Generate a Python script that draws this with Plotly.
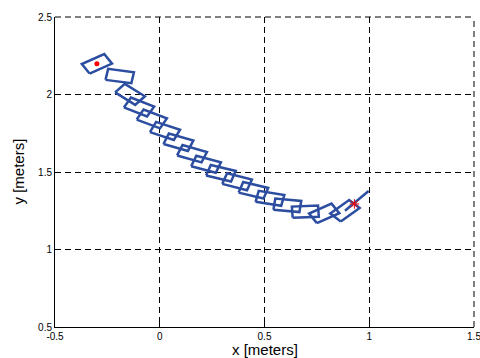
import math
import plotly.graph_objects as go

# Robot poses: centre x, centre y [m], heading [deg]
pose_x = [-0.300, -0.191, -0.142, -0.099, -0.038, 0.025, 0.089, 0.154, 0.221,
          0.292, 0.369, 0.447, 0.526, 0.609, 0.695, 0.785, 0.884]
pose_y = [2.198, 2.119, 2.001, 1.919, 1.842, 1.765, 1.692, 1.618, 1.550,
          1.492, 1.437, 1.382, 1.330, 1.285, 1.244, 1.233, 1.250]
pose_th = [31, -10, -40, -28, -27, -24, -21, -21, -20,
           -18, -19, -18, -12, -7, 3, 31, 44]

start_pt = (-0.300, 2.199)
goal_pt = (0.929, 1.294)
tail_x = [0.884, 0.997]
tail_y = [1.250, 1.377]

x_ticks = [-0.5, 0, 0.5, 1, 1.5]
y_ticks = [0.5, 1, 1.5, 2, 2.5]

L, W = 0.125, 0.072
rx, ry = [], []
for cx, cy, th in zip(pose_x, pose_y, pose_th):
    t = math.radians(th)
    c, s = math.cos(t), math.sin(t)
    for (a, b) in [(-L/2, -W/2), (L/2, -W/2), (L/2, W/2), (-L/2, W/2), (-L/2, -W/2)]:
        rx.append(cx + a*c - b*s)
        ry.append(cy + a*s + b*c)
    rx.append(None); ry.append(None)

blue = "#2c4da0"
font = "Liberation Sans"
fig = go.Figure()
fig.add_trace(go.Scatter(x=rx, y=ry, mode="lines", line=dict(color=blue, width=2.5),
                         hoverinfo="skip"))
fig.add_trace(go.Scatter(x=tail_x, y=tail_y, mode="lines", line=dict(color=blue, width=2.5)))
fig.add_trace(go.Scatter(x=[start_pt[0]], y=[start_pt[1]], mode="markers",
                         marker=dict(color="red", size=5)))
fig.add_trace(go.Scatter(x=[goal_pt[0]], y=[goal_pt[1]], mode="markers",
                         marker=dict(color="red", size=8, symbol="asterisk-open",
                                     line=dict(color="red", width=1))))

axis_common = dict(showline=True, linecolor="black", linewidth=1, mirror=False,
                   ticks="inside", ticklen=4, tickcolor="black", automargin=False,
                   ticklabeloverflow="allow",
                   showgrid=True, gridcolor="black", gridwidth=1, griddash="6px,4px",
                   zeroline=False, tickfont=dict(family=font, size=10, color="black"))
fig.update_layout(
    width=480, height=358, margin=dict(l=55, r=6, t=17, b=31),
    paper_bgcolor="white", plot_bgcolor="white", showlegend=False,
    xaxis=dict(range=[-0.5, 1.5], tickvals=x_ticks, ticktext=[str(v) for v in x_ticks],
               **axis_common),
    yaxis=dict(range=[0.5, 2.5], tickvals=y_ticks, ticktext=[str(v) for v in y_ticks],
               **axis_common),
)
# dashed box edges at top and right (grid lines at range ends)
fig.add_shape(type="line", xref="paper", yref="paper", x0=0, x1=1, y0=1, y1=1,
              line=dict(color="black", width=1, dash="6px,4px"))
fig.add_shape(type="line", xref="paper", yref="paper", x0=1, x1=1, y0=0, y1=1,
              line=dict(color="black", width=1, dash="6px,4px"))
fig.add_annotation(text="x [meters]", xref="paper", yref="paper", x=0.5, y=0,
                   yshift=-12, yanchor="top", showarrow=False,
                   font=dict(family=font, size=15, color="black"))
fig.add_annotation(text="y [meters]", xref="paper", yref="paper", x=0, y=0.5,
                   xshift=-27, xanchor="right", textangle=-90, showarrow=False,
                   font=dict(family=font, size=15, color="black"))
fig.write_html("out.html", config={"displayModeBar": False},
               post_script="document.body.style.margin='0';")
